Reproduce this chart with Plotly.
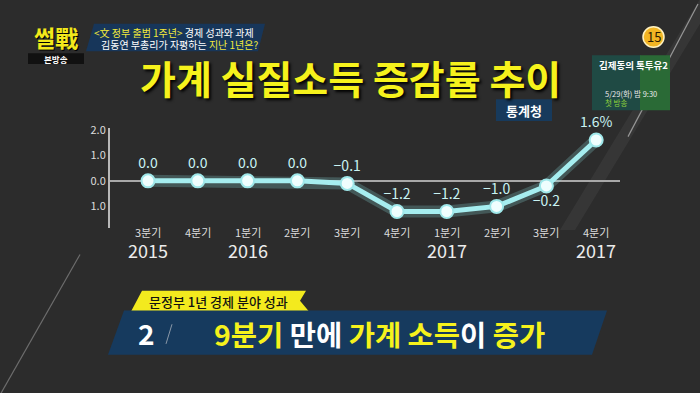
import plotly.graph_objects as go

# ---- data ----
quarters = ["3분기", "4분기", "1분기", "2분기", "3분기", "4분기", "1분기", "2분기", "3분기", "4분기"]
years = ["2015", "", "2016", "", "", "", "2017", "", "", "2017"]
values = [0.0, 0.0, 0.0, 0.0, -0.1, -1.2, -1.2, -1.0, -0.2, 1.6]
ytick_vals = [2, 1, 0, -1]
ytick_text = ["2.0", "1.0", "0.0", "1.0"]

title = "가계 실질소득 증감률 추이"
source = "통계청"

W, H = 700, 393
FONT = "Noto Sans CJK KR"
OFF = 3  # vertical pixel correction
x = list(range(len(values)))


def fmt(v, last):
    s = f"{abs(v):.1f}"
    if v < 0:
        s = "\u2212" + s
    return s + ("%" if last else "")


labels = [fmt(v, i == len(values) - 1) for i, v in enumerate(values)]
positions = ["top center"] * len(values)
positions[8] = "bottom center"


def py(p):  # pixel y (top origin) -> paper
    return 1 - (p - OFF) / H


def px(p):
    return p / W


fig = go.Figure()

# glow
fig.add_trace(go.Scatter(x=x, y=values, mode="lines",
                         line=dict(color="rgba(150,240,240,0.22)", width=12),
                         hoverinfo="skip", showlegend=False))
fig.add_trace(go.Scatter(x=x, y=values, mode="lines+markers+text",
                         line=dict(color="#a6eef0", width=5),
                         marker=dict(size=13, color="#effefe",
                                     line=dict(color="#9fe8ea", width=2)),
                         text=labels, textposition=positions,
                         textfont=dict(family=FONT, size=14, color="#c9f3f3"),
                         showlegend=False, cliponaxis=False))

step = 49.8
x0 = 148
fig.update_layout(
    width=W, height=H, margin=dict(l=0, r=0, t=0, b=0),
    paper_bgcolor="#2c2c2c", plot_bgcolor="rgba(0,0,0,0)",
    xaxis=dict(domain=[px(110), px(620)],
               range=[(110 - x0) / step, (620 - x0) / step],
               showgrid=False, zeroline=False, showticklabels=False, showline=False),
    yaxis=dict(domain=[py(228), py(126)],
               range=[(180 - 228) / 26, (180 - 126) / 26],
               showgrid=False, zeroline=True, zerolinecolor="#a8a8a8", zerolinewidth=1.5,
               showline=True, linecolor="#b8b8b8", linewidth=2,
               tickvals=ytick_vals, ticktext=ytick_text, ticks="",
               tickfont=dict(family=FONT, size=11, color="#dcdcdc")),
    font=dict(family=FONT),
)

shapes = []
anns = []


def ann(xp, yp, text, size, color, xanchor="center", weight=None, shadow=None, xref="paper"):
    f = dict(family=FONT, size=size, color=color)
    if weight:
        f["weight"] = weight
    if shadow:
        f["shadow"] = shadow
    anns.append(dict(x=xp if xref != "paper" else px(xp), y=py(yp), xref=xref, yref="paper",
                     text=text, showarrow=False, xanchor=xanchor, yanchor="middle", font=f))


# background light streaks
shapes.append(dict(type="path", xref="paper", yref="paper",
                   path=f"M {px(700)} {py(-5)} L {px(560)} {py(230)} L {px(575)} {py(230)} L {px(700)} {py(20)} Z",
                   fillcolor="rgba(255,255,255,0.05)", line=dict(width=0), layer="below"))
shapes.append(dict(type="line", xref="paper", yref="paper",
                   x0=px(698), y0=py(0), x1=px(628), y1=py(135),
                   line=dict(color="rgba(230,230,230,0.55)", width=1.2), layer="below"))
shapes.append(dict(type="line", xref="paper", yref="paper",
                   x0=px(0), y0=py(398), x1=px(80), y1=py(255),
                   line=dict(color="rgba(230,230,230,0.35)", width=1.2), layer="below"))

# quarter and year labels
for i, (q, yr) in enumerate(zip(quarters, years)):
    ann(i, 232, q, 11, "#dddddd", xref="x")
    if yr:
        ann(i, 250, yr, 18, "#ececec", xref="x")

# title
ann(350, 74, f"<b>{title}</b>", 39, "#f6f21c", weight=900, shadow="2px 2px 3px #000")
# source badge
shapes.append(dict(type="rect", xref="paper", yref="paper", x0=px(496), x1=px(552),
                   y0=py(119), y1=py(97), fillcolor="#173a5c", line=dict(width=0)))
ann(524, 108, f"<b>{source}</b>", 13, "#ffffff")

# top-left logo
ann(56, 34, "<b>썰戰</b>", 23, "#f2e81c", weight=900, shadow="1px 1px 0 #000")
shapes.append(dict(type="rect", xref="paper", yref="paper", x0=px(28), x1=px(84),
                   y0=py(61), y1=py(50), fillcolor="#111111", line=dict(width=0)))
ann(56, 55.5, "<b>본방송</b>", 8.5, "#ffffff")

# top banner
shapes.append(dict(type="path", xref="paper", yref="paper",
                   path=f"M {px(94)} {py(20)} L {px(265)} {py(20)} L {px(258)} {py(48)} L {px(86)} {py(48)} Z",
                   fillcolor="#17365a", line=dict(width=0)))
ann(174, 29, "<span style='color:#f2ea3a'>&lt;文 정부 출범 1주년&gt;</span> 경제 성과와 과제", 10, "#ffffff")
ann(180, 41.5, "김동연 부총리가 자평하는 <span style='color:#f2ea3a'>지난 1년은?</span>", 10, "#ffffff")

# top-right rating and promo
shapes.append(dict(type="circle", xref="paper", yref="paper", x0=px(643), x1=px(664),
                   y0=py(44), y1=py(23), fillcolor="#f2b523", line=dict(color="#fff2c0", width=1.5)))
ann(653.5, 33.5, "15", 13, "#2a1a00")
shapes.append(dict(type="rect", xref="paper", yref="paper", x0=px(592), x1=px(641),
                   y0=py(108), y1=py(52), fillcolor="#1f4a44", line=dict(width=0)))
shapes.append(dict(type="rect", xref="paper", yref="paper", x0=px(640), x1=px(670),
                   y0=py(108), y1=py(52), fillcolor="#2a6a36", line=dict(width=0)))
ann(597, 62, "<b>김제동의 톡투유2</b>", 9.5, "#ffffff", xanchor="left")
ann(603, 91, "5/29(화) 밤 9:30", 7.5, "#e8e8e8", xanchor="left")
ann(603, 100, "첫 방송", 7.5, "#8fd23c", xanchor="left")

# bottom tag
shapes.append(dict(type="path", xref="paper", yref="paper",
                   path=(f"M {px(142)} {py(292)} L {px(306)} {py(292)} L {px(300)} {py(302)} "
                         f"L {px(309)} {py(313)} L {px(131)} {py(313)} Z"),
                   fillcolor="#f3ea1e", line=dict(width=0)))
ann(218, 302.5, "문정부 1년 경제 분야 성과", 13, "#111111", weight=500)
# bottom main bar
shapes.append(dict(type="path", xref="paper", yref="paper",
                   path=f"M {px(124)} {py(312)} L {px(607)} {py(312)} L {px(592)} {py(357)} L {px(108)} {py(357)} Z",
                   fillcolor="#163a5e", line=dict(width=0)))
shapes.append(dict(type="line", xref="paper", yref="paper", x0=px(172), y0=py(326), x1=px(166), y1=py(346),
                   line=dict(color="#8a98a8", width=1)))
ann(146, 335, "<b>2</b>", 28, "#ffffff")
ann(380, 335, ("<b><span style='color:#f6f21c'>9분기</span> 만에 "
               "<span style='color:#f6f21c'>가계 소득</span>이 "
               "<span style='color:#f6f21c'>증가</span></b>"), 28.5, "#ffffff")

fig.update_layout(shapes=shapes, annotations=anns)
fig.write_html("out.html")
